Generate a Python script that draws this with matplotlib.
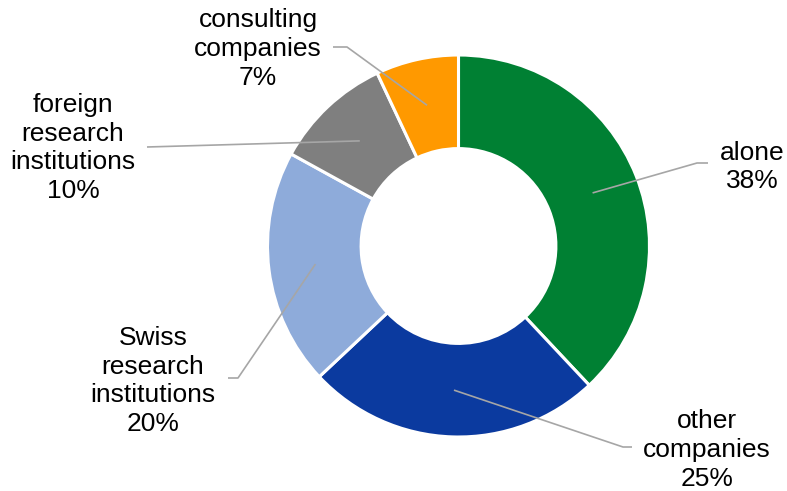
import numpy as np
import matplotlib
matplotlib.use("Agg")
import matplotlib.pyplot as plt

# Collaboration partners (share of projects, %)
labels = ["alone", "other\ncompanies", "Swiss\nresearch\ninstitutions",
          "foreign\nresearch\ninstitutions", "consulting\ncompanies"]
shares = [38, 25, 20, 10, 7]
colors = ["#008033", "#0B3A9F", "#8EABDA", "#7F7F7F", "#FF9900"]

W, H = 787, 491
CX, CY, R = 458.5, 246.0, 191.0   # ring centre and outer radius in pixels
RING = 0.49                         # ring width as fraction of radius


def px(x, y):
    """Pixel coordinates (origin top-left) -> data coordinates."""
    return (x - CX) / R, (CY - y) / R


fig = plt.figure(figsize=(W / 100, H / 100), dpi=100)
ax = fig.add_axes([0, 0, 1, 1])

wedges, _ = ax.pie(shares, colors=colors, startangle=90, counterclock=False,
                   radius=1.0,
                   wedgeprops=dict(width=RING, edgecolor="white", linewidth=2.2))

ax.set_xlim(-CX / R, (W - CX) / R)
ax.set_ylim(-(H - CY) / R, CY / R)
ax.set_aspect("equal")
ax.axis("off")

# label block centres and leader-line bends (pixels)
text_pos = [(752, 167), (707, 450), (153, 381), (73, 148), (258, 49)]
leader = [
    [(697, 163), (708, 163)],
    [(623, 447), (632, 447)],
    [(238, 378), (228, 378)],
    [(147, 147)],
    [(347, 47), (333, 47)],
]

mid_r = 1.0 - RING / 2
for w, lab, val, tp, pts in zip(wedges, labels, shares, text_pos, leader):
    ang = np.deg2rad((w.theta1 + w.theta2) / 2)
    x0, y0 = mid_r * np.cos(ang), mid_r * np.sin(ang)
    xs = [x0] + [px(*p)[0] for p in pts]
    ys = [y0] + [px(*p)[1] for p in pts]
    ax.plot(xs, ys, color="#A6A6A6", lw=1.2, solid_capstyle="butt", zorder=3)
    tx, ty = px(*tp)
    ax.text(tx, ty, f"{lab}\n{val}%", ha="center", va="center",
            fontsize=19, family=["Liberation Sans", "DejaVu Sans"],
            color="#000000", linespacing=1.25)

fig.savefig("out.png", dpi=100, facecolor="white")
